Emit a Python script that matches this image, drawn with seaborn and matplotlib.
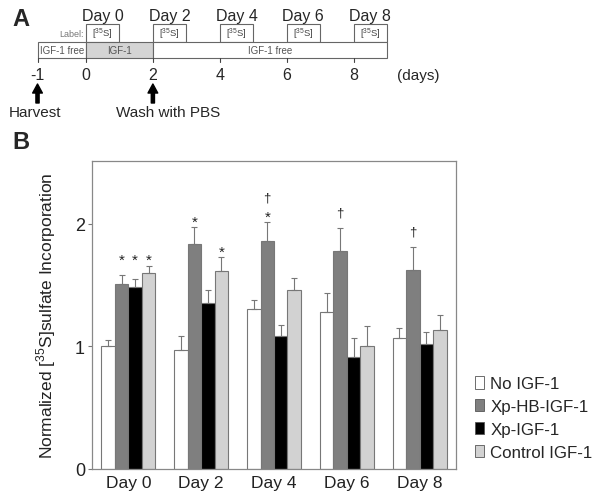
import seaborn as sns
import matplotlib.pyplot as plt
import matplotlib.patches as mpatches
import pandas as pd
import numpy as np

# ----------------------------
# Data
# ----------------------------
days = ["Day 0", "Day 2", "Day 4", "Day 6", "Day 8"]
groups = ["No IGF-1", "Xp-HB-IGF-1", "Xp-IGF-1", "Control IGF-1"]

no_igf = [1.00, 0.97, 1.30, 1.28, 1.07]
no_igf_err = [0.055, 0.115, 0.08, 0.155, 0.08]
xp_hb_igf = [1.505, 1.835, 1.86, 1.78, 1.62]
xp_hb_igf_err = [0.075, 0.135, 0.15, 0.18, 0.19]
xp_igf = [1.48, 1.35, 1.08, 0.91, 1.02]
xp_igf_err = [0.07, 0.11, 0.09, 0.16, 0.10]
control_igf = [1.595, 1.615, 1.455, 1.00, 1.13]
control_igf_err = [0.06, 0.11, 0.10, 0.165, 0.125]

# significance marks: (day, group)
star_marks = [("Day 0", "Xp-HB-IGF-1"), ("Day 0", "Xp-IGF-1"), ("Day 0", "Control IGF-1"),
              ("Day 2", "Xp-HB-IGF-1"), ("Day 2", "Control IGF-1"),
              ("Day 4", "Xp-HB-IGF-1")]
dagger_marks = [("Day 4", "Xp-HB-IGF-1"), ("Day 6", "Xp-HB-IGF-1"), ("Day 8", "Xp-HB-IGF-1")]

# panel A schematic
label_days = [0, 2, 4, 6, 8]
timeline_ticks = ["-1", "0", "2", "4", "6", "8"]
igf_start, igf_end, study_end = 0, 2, 9

colors = ["#ffffff", "#7f7f7f", "#000000", "#d2d2d2"]
edge = "#777777"

values = [no_igf, xp_hb_igf, xp_igf, control_igf]
errors = [no_igf_err, xp_hb_igf_err, xp_igf_err, control_igf_err]
rows = []
for g, vals, errs in zip(groups, values, errors):
    for d, v, e in zip(days, vals, errs):
        rows.append([d, g, v, e])
df = pd.DataFrame(rows, columns=["Day", "Group", "Value", "Err"])

# ----------------------------
# Style
# ----------------------------
sns.set_style("ticks")
plt.rcParams["font.family"] = ["Liberation Sans", "DejaVu Sans"]
plt.rcParams["mathtext.fontset"] = "custom"
plt.rcParams["mathtext.rm"] = "Liberation Sans"

fig = plt.figure(figsize=(6.01, 5.02), dpi=100)

# ----------------------------
# Panel A: timeline schematic (x in days, y in pixels from top)
# ----------------------------
W, H = 601, 502
day0_px, day_px = 86, 33.44
harvest_pos = -1.45
axA = fig.add_axes([0, 1 - 130 / H, 1, 130 / H])
axA.set_xlim((0 - day0_px) / day_px, (W - day0_px) / day_px)
axA.set_ylim(130, 0)
axA.axis("off")

axA.text(-2.21, 20, "A", fontsize=17, fontweight="bold", ha="left", va="center")
box_top, box_h = 25, 17.7
bar_top, bar_h = 42.7, 16.6
for d in label_days:
    axA.add_patch(mpatches.Rectangle((d, box_top), 1, box_h, facecolor="white",
                                     edgecolor="#666666", lw=0.8))
    axA.text(d + 0.5, box_top + box_h / 2 + 0.5, r"[$^{35}$S]", fontsize=6.8,
             ha="center", va="center", color="#444444")
    axA.text(d + 0.5, 16, f"Day {d}", fontsize=11.5, ha="center", va="center")
axA.text(-0.06, box_top + box_h / 2 + 1, "Label:", fontsize=6.5, ha="right",
         va="center", color="#777777")

segments = [(harvest_pos, igf_start, "white", "IGF-1 free"),
            (igf_start, igf_end, "#d4d4d4", "IGF-1"),
            (igf_end, study_end, "white", "IGF-1 free")]
for x0, x1, fc, txt in segments:
    axA.add_patch(mpatches.Rectangle((x0, bar_top), x1 - x0, bar_h, facecolor=fc,
                                     edgecolor="#666666", lw=0.8))
    axA.text((x0 + x1) / 2, bar_top + bar_h / 2 + 0.5, txt, fontsize=7,
             ha="center", va="center", color="#555555")

tick_pos = [harvest_pos] + label_days
for tp, tl in zip(tick_pos, timeline_ticks):
    axA.plot([tp, tp], [bar_top + bar_h, bar_top + bar_h + 4], color="#444444", lw=0.8)
    axA.text(tp, 76, tl, fontsize=11.5, ha="center", va="center")
axA.text(9.30, 76, "(days)", fontsize=11, ha="left", va="center")

for xa, txt in [(harvest_pos, "Harvest"), (igf_end, "Wash with PBS")]:
    axA.annotate("", xy=(xa, 85), xytext=(xa, 104),
                 arrowprops=dict(width=2.3, headwidth=7, headlength=6.5,
                                 facecolor="black", edgecolor="black"))
axA.text(harvest_pos - 0.07, 113, "Harvest", fontsize=11, ha="center", va="center")
axA.text(0.9, 113, "Wash with PBS", fontsize=11, ha="left", va="center")

# ----------------------------
# Panel B: bar chart
# ----------------------------
ax = fig.add_axes([92 / W, 1 - 470 / H, (456 - 92) / W, (470 - 162) / H])
sns.barplot(data=df, x="Day", y="Value", hue="Group", order=days, hue_order=groups,
            palette=colors, width=0.74, edgecolor=edge, linewidth=0.8,
            errorbar=None, ax=ax, saturation=1)

bar_containers = list(ax.containers)
tops = {}
for gi, cont in enumerate(bar_containers):
    xs = np.array([b.get_x() + b.get_width() / 2 for b in cont])
    hs = np.array([b.get_height() for b in cont])
    errs = np.array(errors[gi])
    ax.errorbar(xs, hs, yerr=[np.zeros_like(errs), errs], fmt="none",
                ecolor=edge, elinewidth=0.8, capsize=2.5, capthick=0.8)
    for di, d in enumerate(days):
        tops[(d, groups[gi])] = (xs[di], hs[di] + errs[di])

# asterisks: adjacent starred bars share a level
star_y = {}
for d in days:
    idx = sorted(groups.index(g) for dd, g in star_marks if dd == d)
    runs = []
    for i in idx:
        if runs and i == runs[-1][-1] + 1:
            runs[-1].append(i)
        else:
            runs.append([i])
    for run in runs:
        lvl = max(tops[(d, groups[i])][1] for i in run) + 0.075
        for i in run:
            star_y[(d, groups[i])] = lvl
for key, y in star_y.items():
    ax.text(tops[key][0], y - 0.06, "*", fontsize=11, ha="center", va="baseline",
            color="#222222")
for key in dagger_marks:
    y = star_y[key] + 0.14 if key in star_y else tops[key][1] + 0.14
    ax.text(tops[key][0], y - 0.035, "\u2020", fontsize=9.5, ha="center", va="baseline",
            color="#222222")

ax.set_ylim(0, 2.51)
ax.set_yticks([0, 1, 2])
ax.set_xlim(-0.5, 4.5)
ax.set_xlabel("")
ax.set_ylabel(r"Normalized [$^{35}$S]sulfate Incorporation", fontsize=12.5,
              labelpad=12, color="#222222")
ax.tick_params(axis="y", length=3, width=0.8, color="#777777", labelsize=13,
               labelcolor="#222222", pad=2)
ax.tick_params(axis="x", length=0, labelsize=12.5, labelcolor="#222222", pad=4)
for s in ax.spines.values():
    s.set_visible(True)
    s.set_color("#888888")
    s.set_linewidth(0.9)

handles = [mpatches.Patch(facecolor=c, edgecolor="#555555", lw=0.6) for c in colors]
ax.legend(handles, groups, loc="center left", bbox_to_anchor=(475 / W, 1 - 419 / H),
          bbox_transform=fig.transFigure, frameon=False, fontsize=12.2,
          handlelength=0.55, handleheight=0.75, handletextpad=0.35,
          labelspacing=0.45, borderpad=0, borderaxespad=0)

fig.text(12 / W, 1 - 143 / H, "B", fontsize=17, fontweight="bold", ha="left", va="center")

plt.savefig("out.png", dpi=100)
plt.close()
